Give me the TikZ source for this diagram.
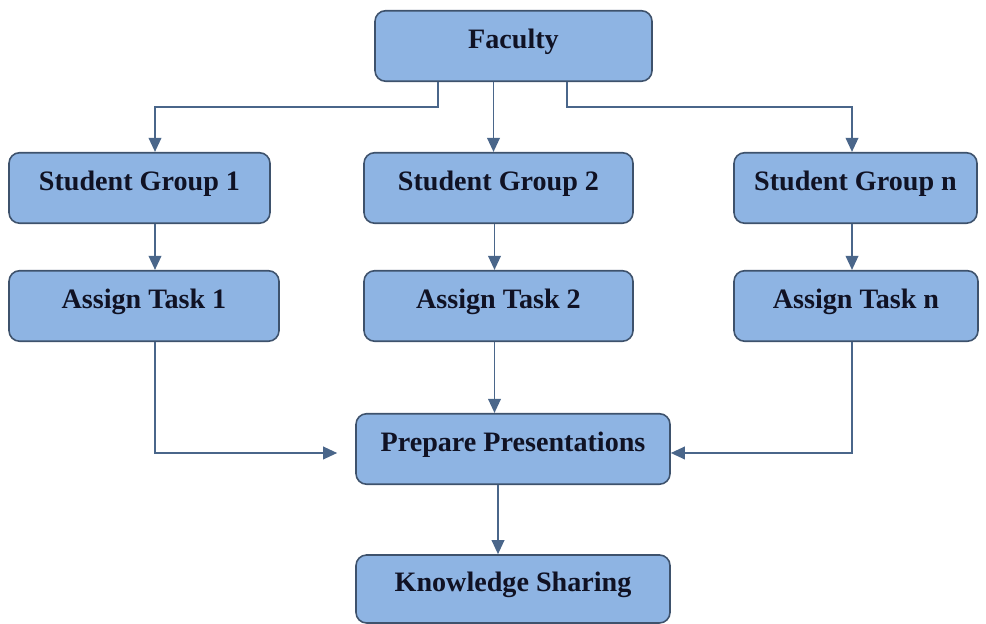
\documentclass[tikz,border=0pt]{standalone}
\usepackage{fontspec}
\setmainfont{Liberation Serif}
\usepackage{tikz}
\usetikzlibrary{arrows.meta,calc}

\definecolor{boxfill}{RGB}{142,180,227}
\definecolor{boxline}{RGB}{62,82,108}
\definecolor{arrline}{RGB}{74,102,138}
\definecolor{boxtext}{RGB}{16,18,36}

\begin{document}
\begin{tikzpicture}[
    box/.style={draw=boxline, fill=boxfill, rounded corners=6pt, line width=0.9pt,
        minimum height=1.41cm, text height=0.4cm, text depth=0.28cm,
        text=boxtext, font=\fontsize{16}{19}\selectfont\bfseries},
    arr/.style={draw=arrline, line width=1.1pt,
        -{Triangle[length=0.28cm,width=0.25cm]}}
]
    \useasboundingbox (0,0) rectangle (19.72,12.48);
    % top box
    \node[box, minimum width=5.54cm] (fac) at (10.27,11.56) {Faculty};
    % student groups
    \node[box, minimum width=5.22cm] (sg1) at (2.79,8.72) {Student Group 1};
    \node[box, minimum width=5.38cm] (sg2) at (9.97,8.72) {Student Group 2};
    \node[box, minimum width=4.86cm] (sgn) at (17.11,8.72) {Student Group n};
    % tasks
    \node[box, minimum width=5.40cm] (at1) at (2.88,6.36) {Assign Task 1};
    \node[box, minimum width=5.38cm] (at2) at (9.97,6.36) {Assign Task 2};
    \node[box, minimum width=4.88cm] (atn) at (17.12,6.36) {Assign Task n};
    % bottom boxes
    \node[box, minimum width=6.28cm] (pp) at (10.26,3.50) {Prepare Presentations};
    \node[box, minimum width=6.28cm, minimum height=1.36cm] (ks) at (10.26,0.70) {Knowledge Sharing};

    % faculty to groups
    \draw[arr] ([xshift=-1.51cm]fac.south) -- ++(0,-0.5) -| ([xshift=0.31cm]sg1.north);
    \draw[arr] ([xshift=-0.10cm]sg2.north |- fac.south) -- ([xshift=-0.10cm]sg2.north);
    \draw[arr] ([xshift=1.07cm]fac.south) -- ++(0,-0.5) -| ([xshift=-0.07cm]sgn.north);
    % groups to tasks
    \draw[arr] ([xshift=0.31cm]sg1.south) -- ([xshift=0.31cm]sg1.south |- at1.north);
    \draw[arr] ([xshift=-0.08cm]sg2.south) -- ([xshift=-0.08cm]sg2.south |- at2.north);
    \draw[arr] ([xshift=-0.07cm]sgn.south) -- ([xshift=-0.07cm]sgn.south |- atn.north);
    % tasks to presentations
    \draw[arr, shorten >=0.36cm] ([xshift=0.22cm]at1.south) |- ([yshift=-0.08cm]pp.west);
    \draw[arr] ([xshift=-0.08cm]at2.south) -- ([xshift=-0.08cm]at2.south |- pp.north);
    \draw[arr] ([xshift=-0.08cm]atn.south) |- ([yshift=-0.08cm]pp.east);
    % presentations to sharing
    \draw[arr] ([xshift=-0.30cm]pp.south) -- ([xshift=-0.30cm]pp.south |- ks.north);
\end{tikzpicture}
\end{document}
